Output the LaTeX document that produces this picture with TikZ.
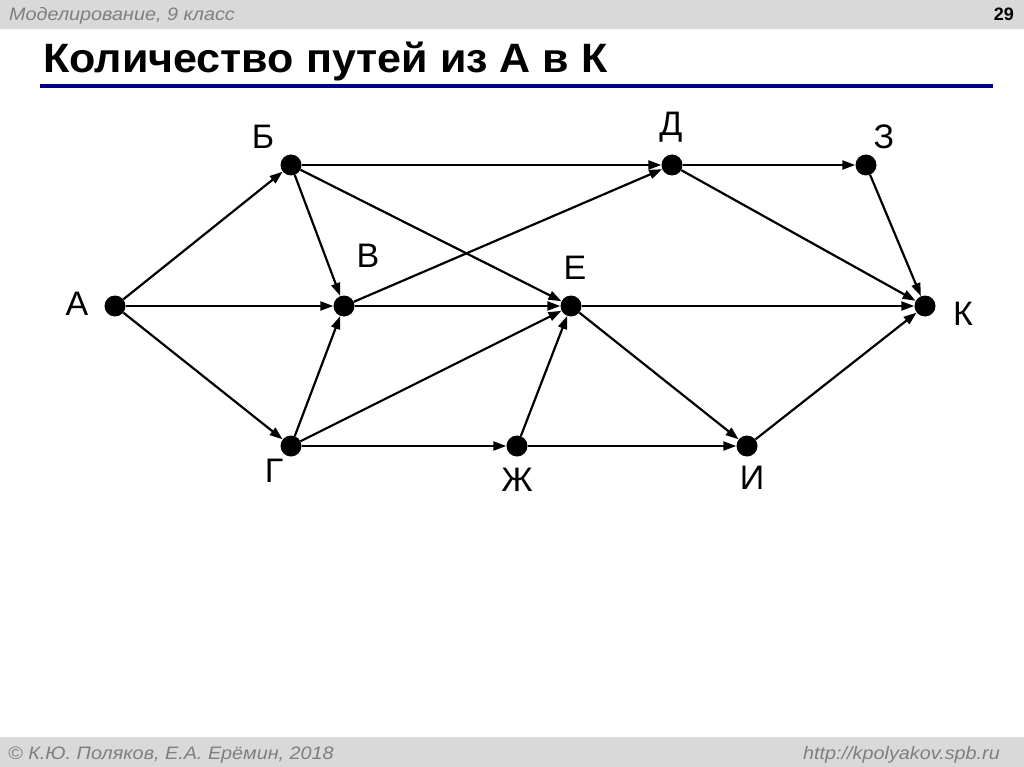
\documentclass[tikz,border=0pt]{standalone}
\usepackage{fontspec}
\setmainfont{Liberation Sans}
\usetikzlibrary{arrows.meta}
\definecolor{bandgray}{HTML}{D9D9D9}
\definecolor{txtgray}{HTML}{7F7F7F}
\definecolor{navyline}{HTML}{000080}
\begin{document}
\begin{tikzpicture}[x=1pt,y=-1pt,
  vert/.style={circle,fill=black,minimum size=21pt,inner sep=0pt},
  lbl/.style={font=\fontsize{34}{35}\selectfont,inner sep=0pt},
  hdrtxt/.style={text=txtgray,font=\fontsize{18}{19}\selectfont\itshape,inner sep=0pt,xscale=1.1},
  arr/.style={line width=2.2pt,-{Triangle[length=13pt,width=9pt]}}]
\useasboundingbox (0,0) rectangle (1024,767);
\fill[white] (0,0) rectangle (1024,767);
% header
\fill[bandgray] (0,0) rectangle (1024,29);
\node[hdrtxt,anchor=base west] (hdr) at (9,21) {Моделирование, 9 класс};
\node[anchor=base east,font=\fontsize{18}{19}\selectfont\bfseries,inner sep=0pt] (pg) at (1014,21) {29};
\node[anchor=base west,font=\fontsize{41}{43}\selectfont\bfseries,inner sep=0pt,xscale=1.05] (title) at (43,73) {Количество путей из А в К};
\fill[navyline] (40,84.5) rectangle (993,88.5);
% footer
\fill[bandgray] (0,737) rectangle (1024,767);
\node[hdrtxt,anchor=base west] (ftl) at (8,759) {© К.Ю. Поляков, Е.А. Ерёмин, 2018};
\node[hdrtxt,anchor=base east] (ftr) at (1000,759) {http://kpolyakov.spb.ru};
% vertices
\node[vert] (A) at (115,306) {};
\node[vert] (B) at (291,165) {};
\node[vert] (V) at (344,306) {};
\node[vert] (G) at (291,446) {};
\node[vert] (D) at (672,165) {};
\node[vert] (Z) at (866,165) {};
\node[vert] (E) at (571,306) {};
\node[vert] (K) at (925,306) {};
\node[vert] (Zh) at (517,446) {};
\node[vert] (I) at (747,446) {};
% labels
\node[lbl] (lA) at (77,304) {А};
\node[lbl] (lB) at (263,137) {Б};
\node[lbl] (lV) at (368,256) {В};
\node[lbl] (lD) at (671,127) {Д};
\node[lbl] (lZ) at (884,137) {З};
\node[lbl] (lE) at (575,268) {Е};
\node[lbl] (lK) at (963,314) {К};
\node[lbl] (lG) at (274,471) {Г};
\node[lbl] (lZh) at (517,480) {Ж};
\node[lbl] (lI) at (752,478) {И};
% edges
\draw[arr] (A) -- (B);
\draw[arr] (A) -- (V);
\draw[arr] (A) -- (G);
\draw[arr] (B) -- (V);
\draw[arr] (B) -- (D);
\draw[arr] (B) -- (E);
\draw[arr] (V) -- (D);
\draw[arr] (V) -- (E);
\draw[arr] (G) -- (V);
\draw[arr] (G) -- (E);
\draw[arr] (G) -- (Zh);
\draw[arr] (D) -- (Z);
\draw[arr] (D) -- (K);
\draw[arr] (Z) -- (K);
\draw[arr] (E) -- (K);
\draw[arr] (E) -- (I);
\draw[arr] (Zh) -- (E);
\draw[arr] (Zh) -- (I);
\draw[arr] (I) -- (K);
\end{tikzpicture}
\end{document}
